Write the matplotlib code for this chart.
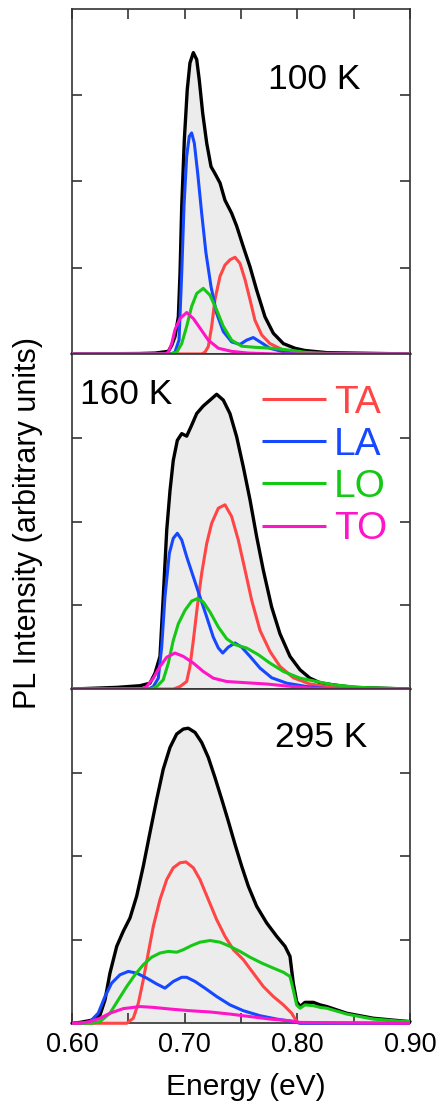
import matplotlib
matplotlib.use("Agg")
import matplotlib.pyplot as plt

plt.rcParams['font.family'] = ['Liberation Sans', 'DejaVu Sans']

# ---- 100 K ----
e100_tot = [0.600, 0.660, 0.6737, 0.6855, 0.6885, 0.6914, 0.6944, 0.6959, 0.6974, 0.6997, 0.7023, 0.7047,
            0.7077, 0.7107, 0.7130, 0.7160, 0.7196, 0.7234, 0.7269, 0.7314, 0.7358, 0.7417, 0.7462, 0.7521,
            0.7580, 0.7639, 0.7713, 0.7787, 0.7876, 0.7979, 0.8068, 0.8261, 0.900]
i100_tot = [0, 0.005, 0.01, 0.03, 0.10, 0.20, 0.43, 0.94, 1.71, 2.48, 3.06, 3.37,
            3.49, 3.41, 3.17, 2.79, 2.44, 2.17, 2.09, 1.98, 1.78, 1.63, 1.48, 1.24,
            1.01, 0.74, 0.43, 0.24, 0.12, 0.066, 0.04, 0.015, 0]
e100_ta = [0.600, 0.7150, 0.7180, 0.7210, 0.7240, 0.7269, 0.7314, 0.7358, 0.7402, 0.7447, 0.7491, 0.7536,
           0.7580, 0.7624, 0.7684, 0.7757, 0.7861, 0.8009, 0.900]
i100_ta = [0, 0, 0.02, 0.085, 0.32, 0.63, 0.90, 1.03, 1.09, 1.12, 1.05, 0.86,
           0.63, 0.39, 0.22, 0.12, 0.054, 0.01, 0]
e100_la = [0.600, 0.6880, 0.6914, 0.6950, 0.6974, 0.6994, 0.7018, 0.7041, 0.7062, 0.7086, 0.7116, 0.7151,
           0.7189, 0.7234, 0.7284, 0.7343, 0.7417, 0.7491, 0.7550, 0.7609, 0.7669, 0.7757, 0.7861, 0.800, 0.900]
i100_la = [0, 0, 0.02, 0.16, 0.94, 1.71, 2.29, 2.52, 2.56, 2.44, 2.09, 1.63,
           1.17, 0.78, 0.47, 0.26, 0.14, 0.11, 0.16, 0.19, 0.14, 0.066, 0.03, 0, 0]
e100_lo = [0.600, 0.6880, 0.6929, 0.6974, 0.7018, 0.7062, 0.7107, 0.7165, 0.7225, 0.7284, 0.7343, 0.7417,
           0.7506, 0.7624, 0.7772, 0.7920, 0.8068, 0.830, 0.900]
i100_lo = [0, 0, 0.02, 0.12, 0.32, 0.55, 0.70, 0.76, 0.68, 0.51, 0.32, 0.16,
           0.09, 0.077, 0.066, 0.046, 0.02, 0.0, 0]
e100_to = [0.600, 0.6820, 0.6855, 0.6885, 0.6914, 0.6959, 0.7018, 0.7077, 0.7136, 0.7210, 0.7299, 0.7417,
           0.7565, 0.780, 0.900]
i100_to = [0, 0, 0.02, 0.12, 0.28, 0.41, 0.48, 0.41, 0.30, 0.16, 0.066, 0.03,
           0.01, 0.0, 0]

# ---- 160 K ----
e160_tot = [0.600, 0.640, 0.6604, 0.6692, 0.6737, 0.6781, 0.6810, 0.6841, 0.6870, 0.6899, 0.6935, 0.6974,
            0.7018, 0.7062, 0.7107, 0.7165, 0.7225, 0.7284, 0.7343, 0.7402, 0.7462, 0.7521, 0.7580, 0.7639,
            0.7698, 0.7772, 0.7846, 0.7935, 0.8024, 0.8112, 0.8201, 0.8319, 0.8497, 0.900]
i160_tot = [0, 0.02, 0.04, 0.07, 0.19, 0.39, 1.10, 1.90, 2.37, 2.73, 2.97, 3.05,
            3.02, 3.15, 3.29, 3.38, 3.45, 3.52, 3.45, 3.29, 3.01, 2.65, 2.26, 1.82,
            1.42, 0.98, 0.66, 0.39, 0.23, 0.13, 0.075, 0.05, 0.02, 0]
e160_ta = [0.600, 0.6900, 0.6959, 0.7018, 0.7047, 0.7077, 0.7112, 0.7151, 0.7196, 0.7240, 0.7299, 0.7358,
           0.7417, 0.7476, 0.7536, 0.7595, 0.7669, 0.7757, 0.7846, 0.7964, 0.8112, 0.8319, 0.850, 0.900]
i160_ta = [0, 0, 0.03, 0.09, 0.27, 0.58, 0.98, 1.38, 1.74, 1.98, 2.16, 2.20,
           2.06, 1.78, 1.42, 1.06, 0.70, 0.45, 0.27, 0.135, 0.06, 0.02, 0.0, 0]
e160_la = [0.600, 0.6680, 0.6722, 0.6766, 0.6796, 0.6825, 0.6864, 0.6899, 0.6935, 0.6974, 0.7018, 0.7077,
           0.7136, 0.7196, 0.7254, 0.7299, 0.7338, 0.7387, 0.7447, 0.7506, 0.7580, 0.7669, 0.7772, 0.7906,
           0.8083, 0.830, 0.900]
i160_la = [0, 0, 0.03, 0.13, 0.50, 1.10, 1.62, 1.80, 1.86, 1.78, 1.58, 1.34,
           1.10, 0.86, 0.62, 0.49, 0.43, 0.50, 0.55, 0.50, 0.39, 0.25, 0.135, 0.07,
           0.03, 0.0, 0]
e160_lo = [0.600, 0.6700, 0.6752, 0.6810, 0.6855, 0.6899, 0.6944, 0.7003, 0.7062, 0.7112, 0.7165, 0.7225,
           0.7299, 0.7373, 0.7447, 0.7550, 0.7654, 0.7757, 0.7876, 0.8024, 0.8172, 0.8319, 0.855, 0.900]
i160_lo = [0, 0, 0.03, 0.11, 0.31, 0.58, 0.78, 0.94, 1.05, 1.08, 1.04, 0.92,
           0.74, 0.60, 0.53, 0.49, 0.41, 0.31, 0.21, 0.13, 0.09, 0.05, 0.02, 0]
e160_to = [0.600, 0.6620, 0.6663, 0.6722, 0.6781, 0.6841, 0.6914, 0.6988, 0.7077, 0.7165, 0.7254, 0.7373,
           0.7550, 0.7728, 0.7906, 0.8142, 0.900]
i160_to = [0, 0, 0.03, 0.13, 0.27, 0.38, 0.43, 0.39, 0.31, 0.21, 0.13, 0.09,
           0.075, 0.06, 0.036, 0.01, 0]

# ---- 295 K ----
e295_tot = [0.600, 0.6071, 0.6189, 0.6249, 0.6293, 0.6337, 0.6397, 0.6455, 0.6515, 0.6574, 0.6633, 0.6692,
            0.6752, 0.6810, 0.6870, 0.6929, 0.6988, 0.7032, 0.7092, 0.7151, 0.7210, 0.7269, 0.7329, 0.7387,
            0.7447, 0.7506, 0.7565, 0.7639, 0.7728, 0.7817, 0.7891, 0.7935, 0.7964, 0.7994, 0.8024, 0.8068,
            0.8142, 0.8201, 0.8261, 0.8438, 0.8674, 0.8911, 0.900]
i295_tot = [0, 0.01, 0.04, 0.10, 0.28, 0.60, 0.92, 1.10, 1.26, 1.52, 1.88, 2.28,
            2.68, 3.04, 3.30, 3.46, 3.52, 3.53, 3.48, 3.36, 3.18, 2.94, 2.68, 2.42,
            2.14, 1.88, 1.64, 1.40, 1.20, 1.04, 0.92, 0.80, 0.48, 0.26, 0.20, 0.25,
            0.25, 0.22, 0.20, 0.12, 0.06, 0.03, 0.02]
e295_ta = [0.600, 0.6486, 0.6544, 0.6589, 0.6633, 0.6677, 0.6722, 0.6781, 0.6841, 0.6899, 0.6959, 0.7012,
           0.7077, 0.7136, 0.7210, 0.7284, 0.7358, 0.7432, 0.7521, 0.7609, 0.7698, 0.7787, 0.7876, 0.7950,
           0.7994, 0.8024, 0.900]
i295_ta = [0, 0, 0.06, 0.24, 0.52, 0.84, 1.16, 1.48, 1.72, 1.86, 1.92, 1.93,
           1.86, 1.72, 1.48, 1.24, 1.04, 0.88, 0.76, 0.60, 0.44, 0.32, 0.22, 0.12,
           0.02, 0, 0]
e295_la = [0.600, 0.6100, 0.6160, 0.6233, 0.6293, 0.6352, 0.6426, 0.6500, 0.6574, 0.6663, 0.6752, 0.6825,
           0.6899, 0.6974, 0.7018, 0.7092, 0.7180, 0.7284, 0.7402, 0.7521, 0.7669, 0.7817, 0.7964, 0.8024, 0.900]
i295_la = [0, 0, 0.02, 0.12, 0.32, 0.48, 0.58, 0.62, 0.60, 0.54, 0.47, 0.42,
           0.50, 0.55, 0.55, 0.50, 0.42, 0.32, 0.22, 0.15, 0.09, 0.05, 0.02, 0, 0]
e295_lo = [0.600, 0.6180, 0.6249, 0.6337, 0.6411, 0.6486, 0.6559, 0.6633, 0.6707, 0.6781, 0.6855, 0.6929,
           0.6988, 0.7062, 0.7136, 0.7225, 0.7314, 0.7402, 0.7491, 0.7580, 0.7684, 0.7787, 0.7876, 0.7935,
           0.7964, 0.7994, 0.8024, 0.8068, 0.8142, 0.8201, 0.8261, 0.8438, 0.8674, 0.8911, 0.900]
i295_lo = [0, 0, 0.02, 0.12, 0.28, 0.44, 0.58, 0.70, 0.79, 0.84, 0.86, 0.85,
           0.88, 0.93, 0.97, 0.99, 0.97, 0.92, 0.86, 0.79, 0.72, 0.66, 0.61, 0.56,
           0.40, 0.22, 0.18, 0.22, 0.21, 0.19, 0.18, 0.11, 0.05, 0.025, 0.02]
e295_to = [0.600, 0.6071, 0.6160, 0.6249, 0.6337, 0.6455, 0.6604, 0.6722, 0.6870, 0.7047, 0.7225, 0.7402,
           0.7580, 0.7757, 0.7935, 0.8024, 0.900]
i295_to = [0, 0, 0.02, 0.06, 0.12, 0.175, 0.20, 0.19, 0.17, 0.15, 0.135, 0.11,
           0.08, 0.05, 0.03, 0.01, 0]

temps = ["100 K", "160 K", "295 K"]
phonons = ["TA", "LA", "LO", "TO"]
colors = ["#ff4545", "#1548ff", "#15c815", "#ff15c8"]

panels = [
    (e100_tot, i100_tot, [(e100_ta, i100_ta), (e100_la, i100_la), (e100_lo, i100_lo), (e100_to, i100_to)]),
    (e160_tot, i160_tot, [(e160_ta, i160_ta), (e160_la, i160_la), (e160_lo, i160_lo), (e160_to, i160_to)]),
    (e295_tot, i295_tot, [(e295_ta, i295_ta), (e295_la, i295_la), (e295_lo, i295_lo), (e295_to, i295_to)]),
]

fig = plt.figure(figsize=(4.4, 11.03), dpi=100)
rects = [[0.1636, 0.6791, 0.7682, 0.3131],
         [0.1636, 0.3753, 0.7682, 0.3037],
         [0.1636, 0.0723, 0.7682, 0.3031]]
label_pos = [(0.581, 0.794), (0.024, 0.878), (0.60, 0.856)]

axes = []
for k, (rect, (et, it, comps)) in enumerate(zip(rects, panels)):
    ax = fig.add_axes(rect)
    axes.append(ax)
    ax.fill_between(et, it, 0, color="#ececec", lw=0, zorder=1)
    ax.plot(et, it, color="black", lw=2.4, zorder=3, clip_on=False,
            solid_joinstyle="round", solid_capstyle="round")
    handles = []
    for (e, i), c in zip(comps, colors):
        h, = ax.plot(e, i, color=c, lw=2.2, zorder=4, clip_on=False,
                     solid_joinstyle="round", solid_capstyle="butt")
        handles.append(h)
    ax.set_xlim(0.60, 0.90)
    ax.set_ylim(0, 4)
    ax.set_yticks([1, 2, 3])
    ax.set_xticks([0.60, 0.65, 0.70, 0.75, 0.80, 0.85, 0.90])
    ax.tick_params(axis="y", direction="in", left=True, right=True, labelleft=False,
                   length=7, width=1.2, color="#333333")
    ax.tick_params(axis="x", direction="in", length=7, width=1.2, color="#333333",
                   top=(k == 0), bottom=(k == 2), labelbottom=(k == 2), labelsize=19.5, pad=6)
    for s in ax.spines.values():
        s.set_color("#333333")
        s.set_linewidth(1.2)
    ax.text(label_pos[k][0], label_pos[k][1], temps[k], transform=ax.transAxes,
            fontsize=25.5, ha="left", va="center")
    if k == 1:
        ax.legend(handles, phonons, loc="upper left", bbox_to_anchor=(0.563, 0.909), frameon=False,
                  fontsize=28, handlelength=1.65, handletextpad=0.2, labelspacing=0.16,
                  borderaxespad=0, borderpad=0, labelcolor="linecolor")

axes[2].set_xticklabels(["0.60", "", "0.70", "", "0.80", "", "0.90"])

fig.text(0.064, 1 - 523 / 1103, "PL Intensity (arbitrary units)", rotation=90,
         ha="center", va="center", fontsize=22)
fig.text(245.8 / 440, 0.002, "Energy (eV)", ha="center", va="bottom", fontsize=21.5)

fig.savefig("out.png", dpi=100)
